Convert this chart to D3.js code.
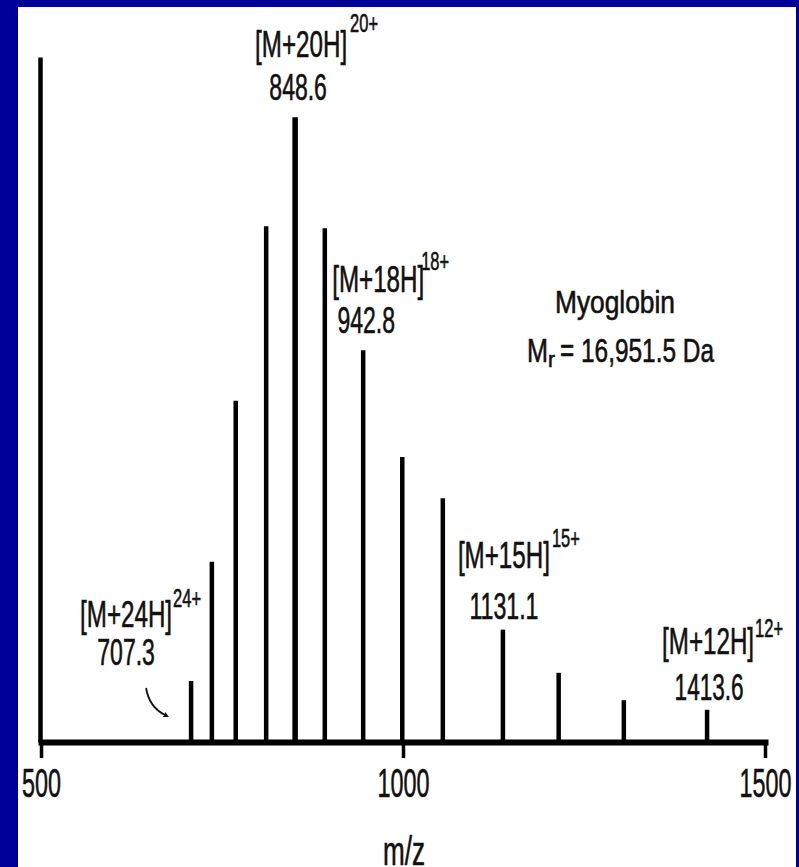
<!DOCTYPE html>
<html>
<head>
<meta charset="utf-8">
<script src="https://cdn.jsdelivr.net/npm/d3@7"></script>
<style>
  body { margin: 0; background: #000098; }
  svg { display: block; }
  text { font-family: "Liberation Sans", Arial, sans-serif; fill: #111; stroke: #111; stroke-width: 0.6; }
</style>
</head>
<body>
<svg id="chart" width="799" height="867"></svg>
<script>
// peaks (m/z, relative intensity %)
var mz = [707.3, 736, 769, 811, 851, 892, 945, 999, 1055, 1138, 1215, 1305, 1420];
var intensity = [8.9, 26.3, 49.8, 75.3, 91.2, 75.0, 57.2, 41.6, 35.6, 16.4, 10.1, 6.1, 4.7];
var charge = [24, 23, 22, 21, 20, 19, 18, 17, 16, 15, 14, 13, 12];

// labelled charge states
var labelCharge = [24, 20, 18, 15, 12];
var labelMz = ["707.3", "848.6", "942.8", "1131.1", "1413.6"];

var xTicks = [500, 1000, 1500];
var xTitle = "m/z";
var compound = "Myoglobin";
var massText = "= 16,951.5 Da";

var svg = d3.select("#chart");

// white panel inside the blue frame
svg.append("rect").attr("x", 18).attr("y", 7).attr("width", 778).attr("height", 860).attr("fill", "#fff");

var x = d3.scaleLinear().domain([500, 1500]).range([41, 765]);
var y = d3.scaleLinear().domain([0, 100]).range([742, 57]);

// text helper: squeezed to a fixed width like the scanned lettering
function txt(g, px, py, s, size, len) {
    return g.append("text")
        .attr("x", px).attr("y", py)
        .attr("font-size", size)
        .attr("textLength", len)
        .attr("lengthAdjust", "spacingAndGlyphs")
        .text(s);
}

// peaks
var peaks = mz.map((m, i) => ({mz: m, int: intensity[i], z: charge[i]}));

svg.append("g").selectAll("line.peak")
    .data(peaks)
    .join("line")
    .classed("peak", true)
    .attr("x1", d => x(d.mz)).attr("x2", d => x(d.mz))
    .attr("y1", y(0)).attr("y2", d => y(d.int))
    .attr("stroke", "#000")
    .attr("stroke-width", d => d.z === 20 ? 5.5 : 4.5);

// y axis (just the line)
var yAxis = svg.append("g")
    .attr("transform", "translate(40,0)")
    .call(d3.axisLeft(y).tickValues([]).tickSizeOuter(0));
yAxis.select(".domain").attr("stroke", "#000").attr("stroke-width", 4.5);

// x axis
var xAxis = svg.append("g")
    .attr("transform", "translate(0," + y(0) + ")")
    .call(d3.axisBottom(x).tickValues(xTicks).tickSize(16).tickSizeOuter(0).tickFormat(d3.format("d")));
xAxis.select(".domain").attr("stroke", "#000").attr("stroke-width", 6).attr("stroke-linecap", "square");
xAxis.selectAll(".tick line").attr("stroke", "#000").attr("stroke-width", 3.5);
xAxis.selectAll(".tick text")
    .attr("font-size", 40)
    .attr("font-family", "Liberation Sans, Arial, sans-serif")
    .attr("fill", "#111")
    .attr("stroke", "#111")
    .attr("stroke-width", 0.9)
    .attr("text-anchor", "start")
    .attr("dy", 0)
    .attr("y", 55)
    .attr("x", d => -String(d).length * 6.5)
    .attr("textLength", d => String(d).length * 13)
    .attr("lengthAdjust", "spacingAndGlyphs");

txt(svg, 383, 865, xTitle, 40, 42).attr("stroke-width", 0.9);

// charge-state labels, placed relative to their peak
var layout = {
    24: {dx: -65, dy: -16, ix: -46, iy: -38, sx: 93, sy: -20},
    20: {dx: 3, dy: -17, ix: -43, iy: -43, sx: 95, sy: -25},
    18: {dx: 3, dy: -17, ix: -34, iy: -41, sx: 89, sy: -22},
    15: {dx: 1, dy: -11, ix: -46, iy: -51, sx: 94, sy: -21},
    12: {dx: 2, dy: -10, ix: -47, iy: -46, sx: 93, sy: -17}
};

var lab = svg.append("g");
labelCharge.forEach(function(z, i) {
    var p = peaks.find(d => d.z === z);
    var L = layout[z];
    var cx = x(p.mz) + L.dx;
    var by = y(p.int) + L.dy;
    var numW = labelMz[i].length * 11.5;
    txt(lab, cx - numW / 2, by, labelMz[i], 36, numW);
    var ionX = cx + L.ix, ionY = by + L.iy;
    txt(lab, ionX, ionY, "[M+" + z + "H]", 37, 92);
    txt(lab, ionX + L.sx, ionY + L.sy, z + "+", 25, 28).attr("stroke-width", 0.4);
});

// little curved arrow pointing at the 24+ peak
var p24 = peaks.find(d => d.z === 24);
var ax = x(p24.mz), ay = y(0);
svg.append("defs").append("marker")
    .attr("id", "head")
    .attr("viewBox", "0 0 10 10")
    .attr("refX", 2).attr("refY", 5)
    .attr("markerWidth", 3).attr("markerHeight", 3)
    .attr("orient", "auto")
    .append("path").attr("d", "M0,0L10,5L0,10z").attr("fill", "#111");
svg.append("path")
    .attr("d", "M" + (ax - 45) + "," + (ay - 54) + "Q" + (ax - 42) + "," + (ay - 35) + " " + (ax - 26) + "," + (ay - 27))
    .attr("fill", "none")
    .attr("stroke", "#111")
    .attr("stroke-width", 1.8)
    .attr("marker-end", "url(#head)");

// compound name and mass
txt(svg, 555, 313, compound, 31, 120);
txt(svg, 527, 362, "M", 34, 21);
txt(svg, 548, 367, "r", 22, 7).attr("stroke-width", 0.4);
txt(svg, 560, 362, massText, 34, 154);
</script>
</body>
</html>
